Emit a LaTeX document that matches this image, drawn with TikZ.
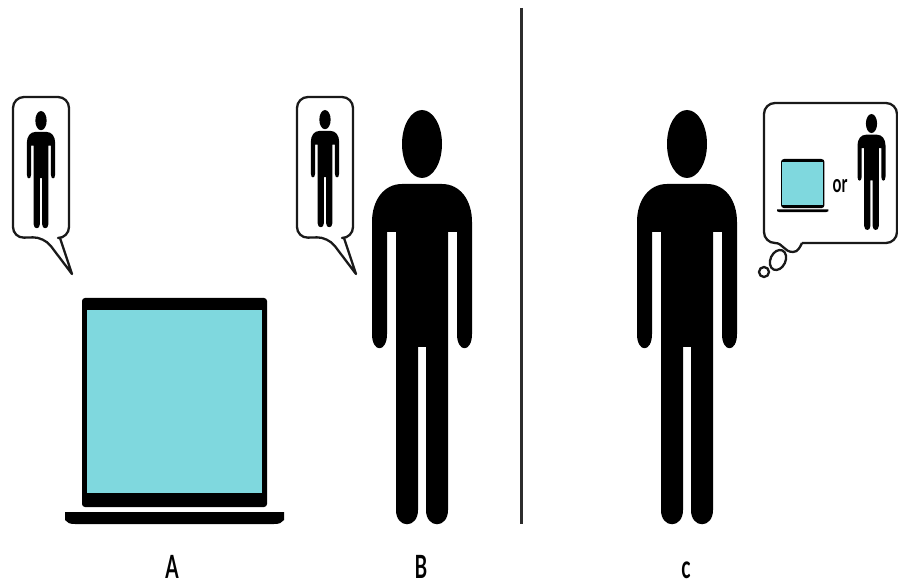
\documentclass[tikz,border=0pt]{standalone}
\usepackage{fontspec}
\setmainfont{Lato}
\definecolor{screenCyan}{RGB}{127,216,222}
\definecolor{ruleGray}{RGB}{45,45,45}
\tikzset{
  person/.pic={
    \fill (0,34) ellipse [x radius=20, y radius=34];
    \fill (-26,122) -- (-26,237) -- (-26,400) .. controls (-26,419) and (-4,419) .. (-4,400)
      -- (-4,237) -- (4,237) -- (4,400) .. controls (4,419) and (26,419) .. (26,400)
      -- (26,122) -- (35,122) -- (35,224) .. controls (35,243) and (50,243) .. (50,224)
      -- (50,112) .. controls (50,90) and (38,74) .. (20,74) -- (-20,74)
      .. controls (-38,74) and (-50,90) .. (-50,112) -- (-50,224)
      .. controls (-50,243) and (-35,243) .. (-35,224) -- (-35,122) -- cycle;
  },
  laptop/.pic={
    \fill[rounded corners=3] (0,0) rectangle (185,209);
    \fill[screenCyan] (5,12) rectangle (180,195);
    \fill (-17,214) -- (202,214) -- (202,222) .. controls (200,225) and (197,226) .. (192,226)
      -- (-7,226) .. controls (-12,226) and (-15,225) .. (-17,222) -- cycle;
  },
  speech/.pic={
    \draw[bubbleline] (31,140) -- (59,177) -- (47,141) [rounded corners=11] -- (56,141)
      -- (56,0) -- (0,0) -- (0,141) -- cycle;
  },
  bubbleline/.style={line width=2.3pt, draw=black!90, line join=round},
  caption/.style={font=\fontsize{32}{32}\selectfont\bfseries, anchor=base, inner sep=0pt},
}
\begin{document}
\begin{tikzpicture}[x=1pt, y=-1pt]
\useasboundingbox (0,0) rectangle (898,580);
% left panel
\pic at (82,298) {laptop};
\pic at (13,97) {speech};
\pic[scale=0.283] at (41,111) {person};
\pic at (422,110) {person};
\pic at (297,97) {speech};
\pic[scale=0.283] at (325,110) {person};
% divider
\draw[ruleGray, line width=3pt] (521,8) -- (521,524);
% right panel
\pic at (687,110) {person};
\draw[bubbleline, rounded corners=11] (802,243) -- (897,243) -- (897,103) -- (764,103) -- (764,243) -- (775,243);
\draw[bubbleline] (775,243) .. controls (783,243) and (784,252) .. (793,252) .. controls (798,252) and (800,247) .. (802,243);
\draw[bubbleline] (778,260) ellipse [x radius=7.5, y radius=10.5, rotate=-25];
\draw[bubbleline] (764,272) circle [radius=5];
\pic[scale=0.235] at (781,159) {laptop};
\pic[scale=0.28] at (871.5,114) {person};
\node[font=\fontsize{25}{25}\selectfont\bfseries, anchor=base, inner sep=0pt] (orLabel) at (840,193) {\scalebox{0.62}[1]{or}};
% captions
\node[caption] (labelA) at (172,578) {\scalebox{0.6}[1]{A}};
\node[caption] (labelB) at (421,578) {\scalebox{0.6}[1]{B}};
\node[caption] (labelC) at (686,578) {\scalebox{0.6}[1]{c}};
\end{tikzpicture}
\end{document}
